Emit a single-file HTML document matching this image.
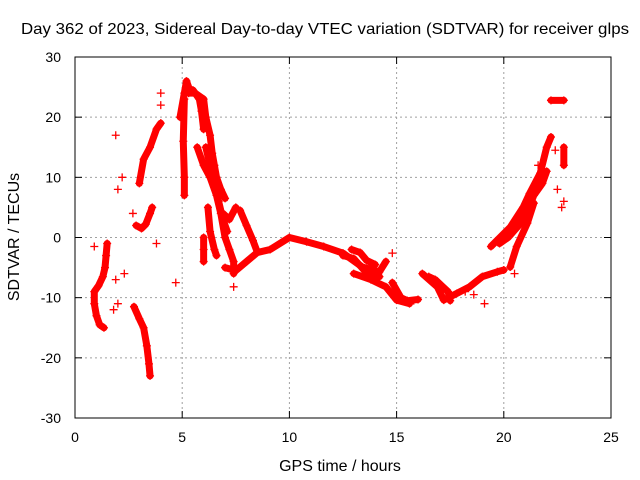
<!DOCTYPE html>
<html><head><meta charset="utf-8"><style>
body{margin:0;background:#fff;}
svg{display:block;font-family:"Liberation Sans",sans-serif;}
</style></head><body>
<svg id="chart" width="640" height="480">
<rect width="640" height="480" fill="#fff"/>
<text x="325" y="34" font-size="16" text-anchor="middle" textLength="608" lengthAdjust="spacingAndGlyphs">Day 362 of 2023, Sidereal Day-to-day VTEC variation (SDTVAR) for receiver glps</text>
<text x="340" y="471" font-size="16" text-anchor="middle">GPS time / hours</text>
<text transform="translate(19,237) rotate(-90)" font-size="16" text-anchor="middle">SDTVAR / TECUs</text>
<g id="grid"></g><g id="marks"></g>
<rect x="75" y="57" width="536" height="361" fill="none" stroke="#000" stroke-width="1"/>
</svg>
<script>
const xTicks=[0,5,10,15,20,25];
const yTicks=[-30,-20,-10,0,10,20,30];
const track1=[[1.5,-1],[1.45,-3],[1.4,-5],[1.3,-6.5],[1.1,-8],[0.9,-9],[0.9,-11],[1.0,-13],[1.15,-14.5],[1.35,-15]];
const track2=[[2.75,-11.5],[3.0,-13.5],[3.2,-15],[3.35,-18],[3.45,-21],[3.5,-23]];
const track3=[[2.85,2],[3.1,1.5],[3.3,2.2],[3.5,4],[3.6,5]];
const track4=[[3.0,9],[3.2,13],[3.5,15],[3.8,18],[4.0,19]];
const track5=[[4.9,20],[5.1,24],[5.2,26],[5.3,25]];
const track6=[[5.1,23],[5.05,16],[5.1,10],[5.1,7]];
const track7=[[5.3,24],[5.6,24],[6.0,23],[6.1,20],[6.3,17],[6.4,14],[6.5,12],[6.6,10],[6.8,8],[7.0,6.5]];
const track8=[[5.7,15],[6.0,12],[6.3,10],[6.6,7],[6.8,4],[7.0,0],[7.2,-2],[7.4,-4],[7.4,-6]];
const track9=[[6.2,5],[6.3,1],[6.5,-2],[6.6,-3]];
const track10=[[6.0,0],[6.0,-2],[6.0,-4]];
const track11=[[7.7,4.5],[8.0,2],[8.3,-0.5],[8.5,-2.4]];
const track12=[[7.0,-5],[7.5,-5.5],[8.0,-4],[8.5,-2.5],[9.1,-2],[10,0],[10.8,-0.7],[11.6,-1.5],[12.5,-2.6],[13.4,-4.9],[14.2,-5.7],[14.5,-4]];
const track13=[[13.0,-6],[13.8,-7],[14.5,-8.2],[15.0,-10.4],[15.6,-11]];
const track14=[[16.2,-6],[16.9,-8.2],[17.2,-10.4],[17.8,-9.3],[18.4,-8.2],[19,-6.5],[19.7,-5.7],[20,-5.4]];
const track15=[[19.4,-1.5],[20.3,1.7],[20.9,5],[21.2,7.3],[21.7,10.7],[22.0,15],[22.2,16.7]];
const track16=[[20.3,-4.9],[20.6,-1.5],[21.1,2.4],[21.4,5.7]];
const track17=[[22.2,22.8],[22.8,22.8]];
const track18=[[22.8,15],[22.8,12]];
const track20=[[5.5,24.5],[5.8,23],[5.9,21],[6.0,18]];
const track21=[[6.1,15],[6.3,12],[6.5,9],[6.7,6],[6.9,3],[7.1,1]];
const track22=[[6.9,4],[7.2,3],[7.5,5]];
const track23=[[12.5,-3],[13.0,-3.5],[13.5,-5.5],[13.9,-6],[14.2,-6.5]];
const track24=[[14.8,-7.5],[15.2,-10],[15.5,-10.5],[16.0,-10.3]];
const track25=[[16.5,-6.5],[16.8,-7],[17.1,-8],[17.4,-9],[17.5,-10.5]];
const track26=[[19.8,-1],[20.2,0],[20.7,2],[21.0,4],[21.3,6]];
const track27=[[20.9,2.5],[21.4,7],[21.8,9],[22.0,11]];
const track28=[[12.9,-2],[13.3,-2.5],[13.6,-3.8],[14.0,-4.5]];
const track19=[[22.7,5],[14.8,-2.6],[7.4,-8.2],[4.7,-7.5],[2.3,-6],[2.0,-11],[1.8,-12],[0.9,-1.5],[1.9,17],[2.0,8],[2.2,10],[19.1,-11],[1.9,-7],[4.0,24],[4.0,22],[3.8,-1],[2.7,4],[15.8,-10.5],[18.2,-9],[18.6,-9.5],[22.5,8],[22.8,6],[21.6,12],[22.4,14.5],[20.5,-6]];
const tracks=[track1,track2,track3,track4,track5,track6,track7,track8,track9,track10,track11,track12,track13,track14,track15,track16,track17,track18,track20,track21,track22,track23,track24,track25,track26,track27,track28];
const X=h=>75+h*536/25, Y=v=>237.5-v*361/60;
const NS='http://www.w3.org/2000/svg';
const grid=document.getElementById('grid'), marks=document.getElementById('marks');
function mk(tag,attrs,parent){const e=document.createElementNS(NS,tag);for(const k in attrs)e.setAttribute(k,attrs[k]);parent.appendChild(e);return e;}
xTicks.forEach(t=>{
  if(t>0&&t<25){const l=mk('line',{x1:X(t),x2:X(t),y1:57,y2:418,stroke:'#a0a0a0','stroke-dasharray':'2,3'},grid);
  
  }
  mk('line',{x1:X(t),x2:X(t),y1:418,y2:411,stroke:'#000'},grid);
  mk('line',{x1:X(t),x2:X(t),y1:57,y2:64,stroke:'#000'},grid);
  const tx=mk('text',{x:X(t),y:442,'font-size':14,'text-anchor':'middle'},grid);tx.textContent=t;
  
  
});
yTicks.forEach(t=>{
  if(t>-30&&t<30){const l=mk('line',{x1:75,x2:611,y1:Y(t),y2:Y(t),stroke:'#a0a0a0','stroke-dasharray':'2,3'},grid);
  
  }
  mk('line',{x1:75,x2:82,y1:Y(t),y2:Y(t),stroke:'#000'},grid);
  mk('line',{x1:604,x2:611,y1:Y(t),y2:Y(t),stroke:'#000'},grid);
  const tx=mk('text',{x:61,y:Y(t)+5,'font-size':14,'text-anchor':'end'},grid);tx.textContent=t;
  
  
});
function plus(h,v){const x=X(h),y=Y(v);
  const p=mk('path',{d:`M${x-4},${y}h8M${x},${y-4}v8`,stroke:'#f00','stroke-width':1.3},marks);
  
  }
tracks.forEach(tr=>{
  const pl=mk('polyline',{points:tr.map(p=>X(p[0])+','+Y(p[1])).join(' '),fill:'none',stroke:'#f00','stroke-width':7,'stroke-linejoin':'round','stroke-linecap':'round'},marks);
  
  
  tr.forEach(p=>plus(p[0],p[1]));
});
track19.forEach(p=>plus(p[0],p[1]));
</script>
</body></html>
